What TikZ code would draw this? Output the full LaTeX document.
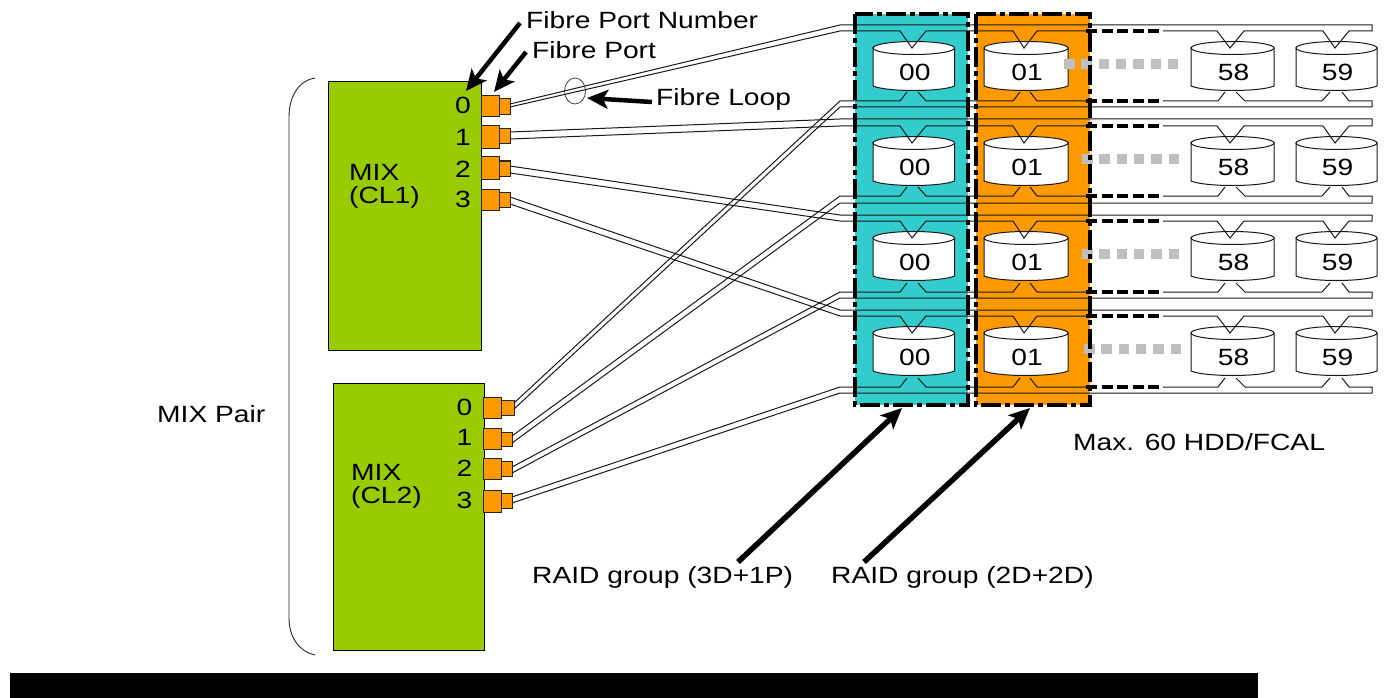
\documentclass[tikz,border=0pt]{standalone}
\usepackage{fontspec}
\setmainfont[FakeStretch=1.2]{Liberation Sans}
\usetikzlibrary{arrows.meta}
\definecolor{mixgreen}{HTML}{99CC00}
\definecolor{teal1}{HTML}{33CCCC}
\definecolor{orange1}{HTML}{FF9900}
\tikzset{
  mixbox/.style={draw=black,line width=1pt,fill=mixgreen},
  portbox/.style={draw=black!85,line width=1pt,fill=orange1},
  groupbox/.style={draw=black,line width=3.6pt,dash pattern=on 20pt off 4pt on 5pt off 4pt},
  fibre/.style={draw=black!90,line width=1pt},
  loopdash/.style={draw=black,line width=3.4pt,dash pattern=on 11pt off 4.5pt},
  skip/.style={draw=black!25,line width=10pt,dash pattern=on 10.5pt off 6.8pt},
  pointer/.style={draw=black,line width=4.5pt,-{Stealth[length=21pt,width=19pt,inset=5pt]}},
  bigpointer/.style={pointer,line width=5.5pt},
  lbl/.style={inner sep=0pt,font=\fontsize{23.5}{26}\selectfont},
  lblw/.style={lbl,anchor=west},
  disk/.style={draw=black!90,line width=1pt,fill=white},
}
\newcommand{\drawdisk}[4]{% left, right, T, text
  \pgfmathsetmacro{\xc}{(#1+#2)/2}
  \pgfmathsetmacro{\ya}{#3+17}
  \pgfmathsetmacro{\yb}{#3+55}
  \pgfmathsetmacro{\yl}{#3+41.5}
  \pgfmathsetmacro{\rx}{(#2-#1)/2}
  \path[disk] (#1,\ya) -- (#1,\yb) .. controls (#1+14,\yb+6) and (#2-14,\yb+6) .. (#2,\yb) -- (#2,\ya) -- cycle;
  \path[disk] (\xc,\ya) ellipse [x radius=\rx, y radius=6.5];
  \node[lbl] (disk-#3-#4) at (\xc+1,\yl) {#4};
}
\begin{document}
\begin{tikzpicture}[x=1pt,y=-1pt]
\useasboundingbox (0,0) rectangle (1384,698);
\fill[white] (0,0) rectangle (1384,698);
\fill[black] (10,673) rectangle (1258,698);

% RAID group columns
\fill[teal1] (855,14) rectangle (968,405);
\fill[orange1] (976,14) rectangle (1090,405);

% MIX boxes
\node[mixbox,minimum width=153pt,minimum height=269pt,inner sep=0pt,anchor=north west] (mixa) at (328,81) {};
\node[mixbox,minimum width=151pt,minimum height=267pt,inner sep=0pt,anchor=north west] (mixb) at (332.5,383) {};

% Ports of MIX CL1
\foreach \n/\ya/\yb/\sa/\sb/\la/\lb in {0/96/117/99/115/104/107, 1/126/149/129/144/132/139, 2/157/179/161/176/166/173, 3/189/210/192/207/197/204}{
  \path[portbox] (481.5,\ya) rectangle (499,\yb);
  \path[portbox] (499,\sa) rectangle (510,\sb);
  \coordinate (a\n u) at (510,\la);
  \coordinate (a\n l) at (510,\lb);
}
% Ports of MIX CL2
\foreach \n/\ya/\yb/\sa/\sb/\xe/\la/\lb in {0/397/418/400/415/514/403/409, 1/428/449/432/446/512/436/443, 2/458/479/461/476/512/467/473, 3/490/512/493/508/512/497/503}{
  \path[portbox] (483.5,\ya) rectangle (501,\yb);
  \path[portbox] (501,\sa) rectangle (\xe,\sb);
  \coordinate (b\n u) at (\xe,\la);
  \coordinate (b\n l) at (\xe,\lb);
}

% Fibre loops and disks per row
\foreach \n/\ot/\T/\B/\ob in {0/25/31/101/107, 1/119/126/196/203, 2/215/221/292/298, 3/310/316/387/393}{
  \pgfmathsetmacro{\vt}{\T+17}
  \pgfmathsetmacro{\vb}{\B-9}
  \coordinate (tor) at (840,\ot);
  \coordinate (tir) at (840,\T);
  \coordinate (bir) at (840,\B);
  \coordinate (bor) at (840,\ob);
  \drawdisk{873}{954.5}{\T}{00}
  \drawdisk{984}{1068}{\T}{01}
  \drawdisk{1191}{1274}{\T}{58}
  \drawdisk{1296}{1377}{\T}{59}
  % top of the loop
  \path[fibre] (a\n u) -- (tor) -- (1372,\ot) -- (1372,\T) -- (1349,\T) -- (1335,\vt) -- (1323,\T) -- (1244,\T) -- (1230,\vt) -- (1217,\T) -- (1163,\T);
  \path[fibre] (a\n l) -- (tir) -- (900,\T) -- (912,\vt) -- (926,\T) -- (1013,\T) -- (1024,\vt) -- (1037,\T) -- (1086,\T);
  \path[loopdash] (1086,\T) -- (1160,\T);
  % bottom of the loop
  \path[fibre] (b\n u) -- (bir) -- (900,\B) -- (907,\vb);
  \path[fibre] (918,\vb) -- (926,\B) -- (1013,\B) -- (1020,\vb);
  \path[fibre] (1030,\vb) -- (1037,\B) -- (1086,\B);
  \path[loopdash] (1086,\B) -- (1160,\B);
  \path[fibre] (1163,\B) -- (1218,\B) -- (1225,\vb);
  \path[fibre] (1236,\vb) -- (1245,\B) -- (1322,\B) -- (1330,\vb);
  \path[fibre] (1342,\vb) -- (1349,\B) -- (1372,\B) -- (1372,\ob) -- (bor) -- (b\n l);
}

% Skipped disks (grey squares)
\path[skip] (1064,64) -- (1180,64);
\path[skip] (1082,159) -- (1180,159);
\path[skip] (1082,254) -- (1180,254);
\path[skip] (1084,349) -- (1183,349);

% Group borders
\path[groupbox] (855,14) rectangle (968,405);
\path[groupbox] (976,14) rectangle (1090,405);

% Brace
\draw[black!85,line width=0.9pt] (315,78) .. controls (300,80) and (289,95) .. (289,117) -- (289,618) .. controls (289,638) and (300,652) .. (315,655);

% Fibre loop mark
\draw[black!75,line width=0.8pt] (575,91) ellipse [x radius=10.5, y radius=13];

% Texts
\foreach \t/\y in {0/105,1/137,2/169,3/199}{\node[lbl] (na\t) at (463,\y) {\t};}
\foreach \t/\y in {0/407,1/437,2/468,3/500}{\node[lbl] (nb\t) at (464.5,\y) {\t};}
\node[lblw] (m1a) at (349,172) {MIX};
\node[lblw] (m1b) at (349,197) {(CL1)};
\node[lblw] (m2a) at (351,472) {MIX};
\node[lblw] (m2b) at (351,497) {(CL2)};
\node[lblw] (pair) at (157,414) {MIX Pair};
\node[lblw] (fpn) at (526,20) {Fibre Port Number};
\node[lblw] (fp) at (532,50) {Fibre Port};
\node[lblw] (fl) at (656,99) {Fibre Loop};
\node[lblw] (max) at (1073,442) {Max. 60 HDD/FCAL};
\node[lblw] (r1) at (532,577) {RAID group (3D+1P)};
\node[lblw] (r2) at (831,577) {RAID group (2D+2D)};

% Pointers
\coordinate (tipa) at (466,91);
\coordinate (tipb) at (494,92);
\coordinate (tipc) at (587,98);
\coordinate (tipd) at (902,408);
\coordinate (tipe) at (1030,408);
\draw[pointer] (520,23) -- (tipa);
\draw[pointer] (526,52) -- (tipb);
\draw[pointer] (652,102) -- (tipc);
\draw[bigpointer] (738,562) -- (tipd);
\draw[bigpointer] (864,562) -- (tipe);
\end{tikzpicture}
\end{document}
